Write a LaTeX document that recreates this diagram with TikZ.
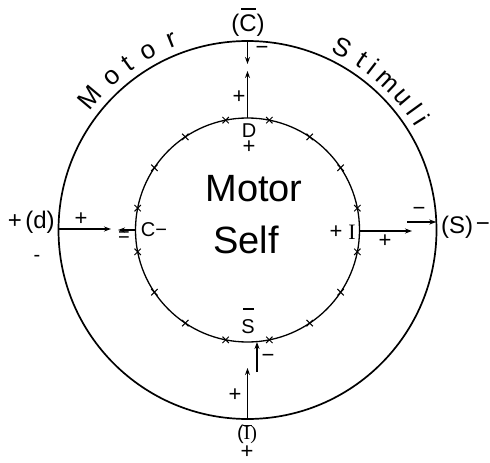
\documentclass[tikz,border=0pt]{standalone}
\usepackage{fontspec}
\setmainfont{Liberation Sans}
\newfontfamily\serifI{Liberation Serif}
\usetikzlibrary{arrows.meta,calc}
\begin{document}
\begin{tikzpicture}[x=1pt,y=-1pt,
  lbl/.style={inner sep=0pt,font=\fontsize{24}{24}\selectfont},
  mid/.style={inner sep=0pt,font=\fontsize{20}{20}\selectfont},
  sgn/.style={inner sep=0pt,font=\fontsize{22}{22}\selectfont},
  big/.style={inner sep=0pt,font=\fontsize{38}{38}\selectfont},
  arcletter/.style={inner sep=0pt,anchor=base,font=\fontsize{26}{26}\selectfont},
  arr/.style={line width=1.1pt,-{Stealth[length=7pt,width=5pt]}},
  bar/.style={line width=1.3pt},
  tickmark/.style={line width=1pt}]
\useasboundingbox (0,0) rectangle (490,463);
\coordinate (c) at (247.5,230);
% circles
\draw[line width=1.7pt] (c) circle[radius=189];
\draw[line width=1.3pt] (c) circle[radius=112];
% ticks on inner circle
\foreach \k in {0,...,15}{
  \pgfmathsetmacro\ang{-(11.25+22.5*\k)}
  \draw[tickmark,shift={($(c)+(\ang:112)$)}] (-3.2,-3.2) -- (3.2,3.2) (-3.2,3.2) -- (3.2,-3.2);
}
% arc texts
\foreach \l/\a in {M/140,o/131.6,t/125.8,o/119.2,r/111.7}{
  \node[arcletter,rotate=\a-90] (m\a) at ($(c)+(-\a:197)$) {\l};
}
\foreach \l/\a in {S/62.5,t/56,i/52.4,m/46.6,u/40.4,l/35.9,i/32.2}{
  \node[arcletter,rotate=\a-90] (s\a) at ($(c)+(-\a:197)$) {\l};
}
% centre text
\node[big] (motor) at (254,189) {Motor};
\node[big] (self) at (246,240) {Self};
% key points
\coordinate (ot) at ($(c)+(0,-189)$);
\coordinate (it) at ($(c)+(0,-112)$);
\coordinate (ta) at (247.5,64);
\coordinate (tb) at (247.5,71);
\coordinate (ob) at ($(c)+(0,189)$);
\coordinate (ba) at (247.5,368);
\coordinate (bs) at (257,372);
\coordinate (bi) at (257,342);
\coordinate (ol) at (58.5,229);
\coordinate (la) at (111,229);
\coordinate (il) at (135.5,230);
\coordinate (lb) at (118,230);
\coordinate (ir) at (359.5,231);
\coordinate (ra) at (412,231);
\coordinate (rs) at (407,222);
\coordinate (orr) at (436.3,222);
% arrows
\draw[arr] (ot) -- (ta);
\draw[arr] (it) -- (tb);
\draw[arr] (ob) -- (ba);
\draw[arr] (bs) -- (bi);
\draw[arr] (ol) -- (la);
\draw[arr] (il) -- (lb);
\draw[arr] (ir) -- (ra);
\draw[arr] (rs) -- (orr);
% top labels
\node[lbl] (cbar) at (248,25) {(C)};
\coordinate (cb1) at (241,9);
\coordinate (cb2) at (256,9);
\draw[bar] (cb1) -- (cb2);
\node[sgn] (tm) at (262,50) {−};
\node[sgn] (tp) at (239,97) {+};
\node[mid] (D) at (249,131) {D};
\node[sgn] (dp) at (249,147) {+};
% left labels
\node[lbl] (lp) at (15,222) {+};
\node[lbl] (d) at (40,222) {(d)};
\node[mid] (lm) at (37,258) {-};
\node[sgn] (lap) at (81,219) {+};
\node[mid] (leq) at (124,237) {=};
\node[mid] (Cm) at (154,230) {C−};
% right labels
\node[sgn] (Ip) at (336,232) {+};
\node[mid,font=\fontsize{22}{22}\serifI] (I) at (352,232) {I};
\node[sgn] (rap) at (385,241) {+};
\node[sgn] (rm) at (419,211) {−};
\node[lbl] (S) at (457,227) {(S)};
\node[lbl] (Sm) at (483,227) {−};
% bottom labels
\node[mid] (Sb) at (248,327) {S};
\coordinate (sb1) at (243,309);
\coordinate (sb2) at (254,309);
\draw[bar] (sb1) -- (sb2);
\node[sgn] (bm) at (268,358) {−};
\node[sgn] (bp) at (235,395) {+};
\node[mid] (ib) at (247,434) {(\serifI I)};
\coordinate (ib1) at (243,425);
\coordinate (ib2) at (252,425);
\draw[line width=1pt] (ib1) -- (ib2);
\node[sgn] (bbp) at (247,452) {+};
\end{tikzpicture}
\end{document}
